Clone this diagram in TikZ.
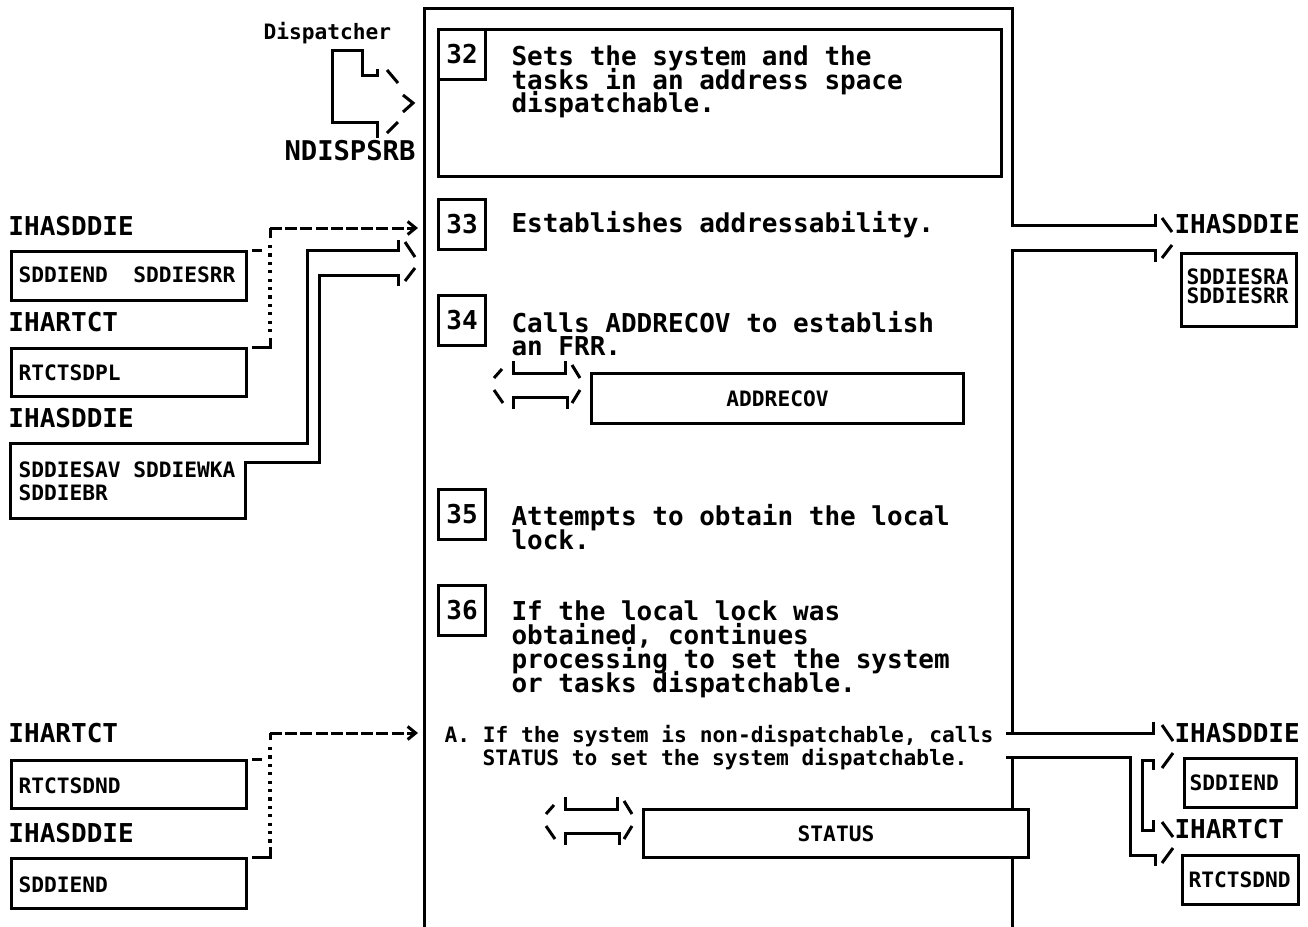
\documentclass[tikz,border=0pt]{standalone}
\usepackage{fontspec}
\setmainfont{DejaVu Sans Mono}[WordSpace={1,0,0}]
\usetikzlibrary{arrows.meta,calc}
\newcommand{\bigf}{\fontsize{13}{12}\selectfont\bfseries}
\newcommand{\smf}{\fontsize{10.6}{11.5}\selectfont\bfseries}
\newcommand{\dblarr}[2]{%
  \begin{scope}[shift={(#1,#2)}]
    \draw (1,20)--(9,11);
    \draw (20,3)--(20,15)--(72,15)--(72,3);
    \draw (79,7)--(87,20);
    \draw (1,32)--(10,45);
    \draw (20,51)--(20,39)--(74,39)--(74,51);
    \draw (79,45)--(87,32);
  \end{scope}}
\begin{document}
\begin{tikzpicture}[x=0.5pt,y=-0.5pt,line width=1.5pt,
  lbl/.style={inner sep=0pt,anchor=base west,font=\bigf},
  slbl/.style={inner sep=0pt,anchor=base west,font=\smf},
  numbox/.style={draw,fill=white,minimum width=23.5pt,minimum height=25pt,inner sep=0pt,anchor=north west,font=\bigf},
  databox/.style={draw,fill=white,inner sep=0pt,anchor=north west},
  callbox/.style={draw,fill=white,inner sep=0pt,anchor=north west,font=\smf},
  dashwire/.style={dash pattern=on 6pt off 1.6pt},
  dotwire/.style={line width=1.7pt,dash pattern=on 1.6pt off 2.6pt},
  chev/.style={-{Straight Barb[length=4pt,width=6.5pt,line width=1.5pt]}},
]
\fill[white] (0,0) rectangle (1308,927);
\useasboundingbox (0,0) rectangle (1308,927);

% ---------- main frame and output connectors ----------
\draw (424,927) -- (424,8) -- (1012,8) -- (1012,225) -- (1155,225) -- (1155,214);
\draw (1162,218) -- (1172,232);
\draw (1155,262) -- (1155,250) -- (1012,250) -- (1012,733) -- (1153,733) -- (1153,722);
\draw (1162,258) -- (1172,245);
\draw (1006,733) -- (1012,733);
\draw (1162,725) -- (1173,741);
\draw (1006,757) -- (1130,757) -- (1130,855) -- (1155,855) -- (1155,866);
\draw (1162,863) -- (1173,848);
\draw (1153,770) -- (1153,760) -- (1142,760) -- (1142,830) -- (1153,830) -- (1153,820);
\draw (1162,768) -- (1173,753);
\draw (1162,822) -- (1173,837);
\draw (1012,757) -- (1012,927);

% ---------- dispatcher arrow ----------
\node[inner sep=0pt,anchor=base west,font=\smf] (disp) at (262,39) {Dispatcher};
\node[inner sep=0pt,anchor=base west,font=\fontsize{13.6}{12}\selectfont\bfseries] (ndisp) at (283,160) {NDISPSRB};
\draw (377,69) -- (377,75) -- (362,75) -- (362,50) -- (332,50) -- (332,122) -- (377,122) -- (377,138);
\draw (387,70) -- (398,83);
\draw (403,95) -- (413,103) -- (403,112);
\draw (387,133) -- (398,122);

% ---------- step 32 ----------
\node[draw,minimum width=281.5pt,minimum height=73.5pt,inner sep=0pt,anchor=north west] (box32) at (437,28) {};
\node[numbox] (n32) at (437,28) {32};
\node[lbl] (t32a) at (510,65) {Sets the system and the};
\node[lbl] (t32b) at (510,89) {tasks in an address space};
\node[lbl] (t32c) at (510,112) {dispatchable.};

% ---------- step 33 ----------
\node[numbox] (n33) at (437,198) {33};
\node[lbl] (t33) at (510,232) {Establishes addressability.};

% ---------- step 34 ----------
\node[numbox] (n34) at (437,294) {34};
\node[lbl] (t34a) at (510,332) {Calls ADDRECOV to establish};
\node[lbl] (t34b) at (510,355) {an FRR.};
\dblarr{493}{358}
\node[callbox,minimum width=186pt,minimum height=25pt] (addrecov) at (590,372) {ADDRECOV};

% ---------- step 35 ----------
\node[numbox] (n35) at (437,488) {35};
\node[lbl] (t35a) at (510,525) {Attempts to obtain the local};
\node[lbl] (t35b) at (510,549) {lock.};

% ---------- step 36 ----------
\node[numbox] (n36) at (437,584) {36};
\node[lbl] (t36a) at (510,620) {If the local lock was};
\node[lbl] (t36b) at (510,644) {obtained, continues};
\node[lbl] (t36c) at (510,668) {processing to set the system};
\node[lbl] (t36d) at (510,692) {or tasks dispatchable.};
\node[slbl] (tAa) at (443,742) {A. If the system is non-dispatchable, calls};
\node[slbl] (tAb) at (481,765) {STATUS to set the system dispatchable.};
\dblarr{545}{794}
\node[callbox,minimum width=192.5pt,minimum height=24pt] (status) at (642,808) {STATUS};

% ---------- left inputs (upper) ----------
\node[lbl] (l1) at (7,235) {IHASDDIE};
\node[databox,minimum width=117.5pt,minimum height=24.5pt] (b1) at (10,250) {};
\node[slbl] (b1t) at (17,282) {SDDIEND\ \ SDDIESRR};
\node[lbl] (l2) at (7,331) {IHARTCT};
\node[databox,minimum width=117.5pt,minimum height=24pt] (b2) at (10,347) {};
\node[slbl] (b2t) at (17,380) {RTCTSDPL};
\node[lbl] (l3) at (7,427) {IHASDDIE};
\node[slbl] (b3t) at (17,477) {SDDIESAV SDDIEWKA};
\node[slbl] (b3u) at (17,500) {SDDIEBR};

\draw (252,250) -- (262,250);
\draw (252,347) -- (270,347) -- (270,338);
\draw (270,238) -- (270,228);
\draw[dotwire] (270,245) -- (270,334);
\draw[dashwire,chev] (270,228) -- (418,228);

\draw (398,240) -- (398,250) -- (307,250) -- (307,443) -- (10,443) -- (10,518) -- (245,518) -- (245,462) -- (319,462) -- (319,275) -- (398,275) -- (398,286);
\draw (405,242) -- (415,257);
\draw (405,281) -- (415,268);

% ---------- left inputs (lower) ----------
\node[lbl] (l4) at (7,742) {IHARTCT};
\node[databox,minimum width=117.5pt,minimum height=24pt] (b4) at (10,759) {};
\node[slbl] (b4t) at (17,793) {RTCTSDND};
\node[lbl] (l5) at (7,842) {IHASDDIE};
\node[databox,minimum width=117.5pt,minimum height=25pt] (b5) at (10,857) {};
\node[slbl] (b5t) at (17,892) {SDDIEND};

\draw (252,759) -- (262,759);
\draw (252,857) -- (270,857) -- (270,847);
\draw (270,740) -- (270,733);
\draw[dotwire] (270,747) -- (270,843);
\draw[dashwire,chev] (270,733) -- (418,733);

% ---------- right outputs ----------
\node[lbl] (r1) at (1173,233) {IHASDDIE};
\node[databox,minimum width=57.5pt,minimum height=36.5pt] (rb1) at (1180,252) {};
\node[slbl] (rb1t) at (1185,284) {SDDIESRA};
\node[slbl] (rb1u) at (1185,303) {SDDIESRR};
\node[lbl] (r2) at (1173,742) {IHASDDIE};
\node[databox,minimum width=56pt,minimum height=24.5pt] (rb2) at (1183,757) {};
\node[slbl] (rb2t) at (1188,790) {SDDIEND};
\node[lbl] (r3) at (1173,838) {IHARTCT};
\node[databox,minimum width=58pt,minimum height=24.5pt] (rb3) at (1181,854) {};
\node[slbl] (rb3t) at (1187,887) {RTCTSDND};
\end{tikzpicture}
\end{document}
